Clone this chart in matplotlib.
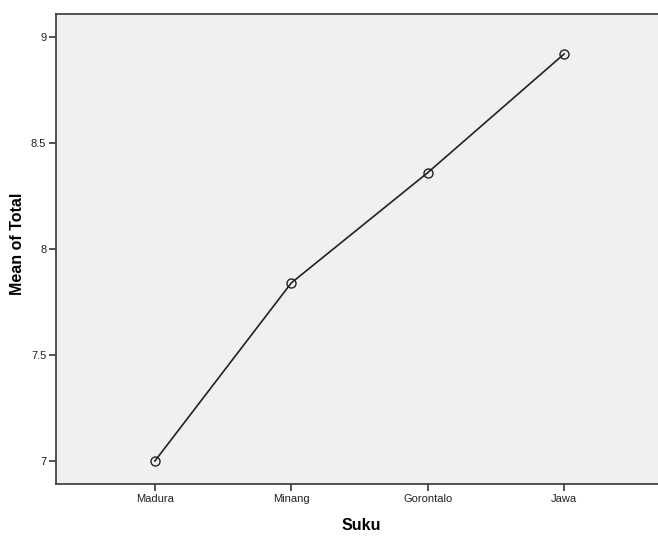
import matplotlib
matplotlib.use("Agg")
import matplotlib.pyplot as plt

suku = ["Madura", "Minang", "Gorontalo", "Jawa"]
mean_total = [7.00, 7.84, 8.36, 8.92]
y_ticks = [7, 7.5, 8, 8.5, 9]
y_labels = ["7", "7.5", "8", "8.5", "9"]

plt.rcParams['font.family'] = ['Liberation Sans', 'DejaVu Sans']

fig = plt.figure(figsize=(6.58, 5.36), dpi=100)
ax = fig.add_axes([56 / 658, 52 / 536, 607 / 658, 470 / 536])
ax.set_facecolor("#f0f0f0")

x = list(range(len(suku)))
ax.plot(x, mean_total, color="#222222", lw=1.2, marker="o", markersize=6.5,
        markerfacecolor="none", markeredgecolor="#222222", markeredgewidth=1.0)

ax.set_xlim(-0.725, 3.725)
ax.set_ylim(7 - 23 / 212, 9 + 23 / 212)
ax.set_xticks(x)
ax.set_xticklabels(suku)
ax.set_yticks(y_ticks)
ax.set_yticklabels(y_labels)

for s in ["left", "bottom", "top"]:
    ax.spines[s].set_color("#444444")
    ax.spines[s].set_linewidth(1.3)
ax.spines["right"].set_visible(False)

ax.tick_params(axis="both", direction="out", length=5, width=1.2,
               color="#333333", labelsize=8, labelcolor="#222222", pad=2)

ax.set_xlabel("Suku", fontsize=11.5, fontweight="bold")
ax.set_ylabel("Mean of Total", fontsize=11.5, fontweight="bold")
# place axis titles where the reference has them (figure pixels)
ax.xaxis.set_label_coords(361 / 658, 11 / 536, transform=fig.transFigure)
ax.yaxis.set_label_coords(18 / 658, (536 - 244) / 536, transform=fig.transFigure)
ax.xaxis.label.set_va("center")
ax.yaxis.label.set_va("center")

fig.savefig("out.png", dpi=100)
